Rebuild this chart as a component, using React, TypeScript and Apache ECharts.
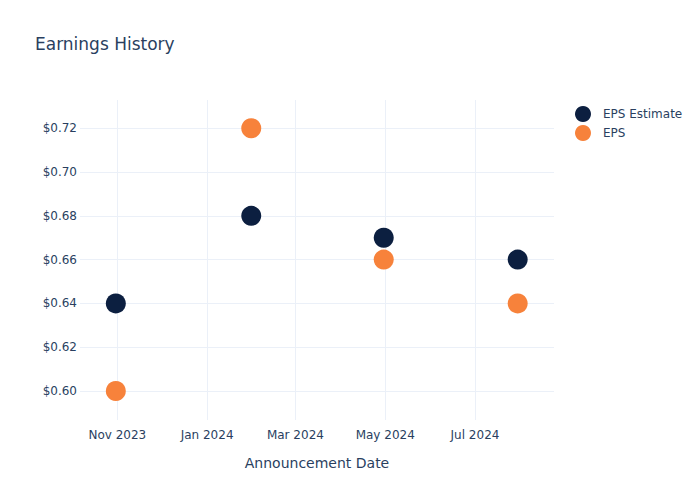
import React, { useEffect, useRef } from "react";
import * as echarts from "echarts";

const dates = ["2023-10-31", "2024-01-31", "2024-04-30", "2024-07-30"];
const epsEstimate = [0.64, 0.68, 0.67, 0.66];
const eps = [0.6, 0.72, 0.66, 0.64];
const xTickDates = ["2023-11-01", "2024-01-01", "2024-03-01", "2024-05-01", "2024-07-01"];
const yTicks = [0.6, 0.62, 0.64, 0.66, 0.68, 0.7, 0.72];
const monthNames = ["Jan", "Feb", "Mar", "Apr", "May", "Jun", "Jul", "Aug", "Sep", "Oct", "Nov", "Dec"];

const ts = (s: string) => {
  const [y, m, d] = s.split("-").map(Number);
  return Date.UTC(y, m - 1, d);
};

const FONT = "DejaVu Sans";
const TEXT = "#2a3f5f";
const GRID = "#ebf0f8";

export default function App() {
  const ref = useRef<HTMLDivElement>(null);
  useEffect(() => {
    if (!ref.current) return;
    const chart = echarts.init(ref.current, undefined, { renderer: "svg" });
    const xTicks = xTickDates.map(ts);
    chart.setOption({
      animation: false,
      textStyle: { fontFamily: FONT },
      title: {
        text: "Earnings History",
        left: 30,
        top: 30,
        textStyle: { fontFamily: FONT, fontSize: 17, fontWeight: "normal", color: TEXT },
      },
      legend: {
        orient: "vertical",
        left: 570,
        top: 101,
        itemWidth: 16,
        itemHeight: 16,
        itemGap: 3,
        icon: "circle",
        textStyle: { fontFamily: FONT, fontSize: 12, color: TEXT, padding: [0, 0, 0, 7] },
        data: ["EPS Estimate", "EPS"],
      },
      grid: { left: 80, right: 146, top: 100, bottom: 80, containLabel: false },
      xAxis: {
        type: "value",
        min: ts("2023-10-06") + 16 * 3600e3,
        max: ts("2024-08-23") + 16 * 3600e3,
        name: "Announcement Date",
        nameLocation: "middle",
        nameGap: 36,
        nameTextStyle: { fontFamily: FONT, fontSize: 14, color: TEXT },
        axisLine: { show: false },
        axisTick: { show: false, customValues: xTicks },
        axisLabel: {
          customValues: xTicks,
          fontFamily: FONT,
          fontSize: 12,
          color: TEXT,
          margin: 9,
          formatter: (v: number) => {
            const d = new Date(v);
            return monthNames[d.getUTCMonth()] + " " + d.getUTCFullYear();
          },
        },
        splitLine: { show: true, lineStyle: { color: GRID, width: 1 } },
      },
      yAxis: {
        type: "value",
        min: 0.58675,
        max: 0.7329,
        axisLine: { show: false },
        axisTick: { show: false, customValues: yTicks },
        axisLabel: {
          customValues: yTicks,
          fontFamily: FONT,
          fontSize: 12,
          color: TEXT,
          margin: 3,
          formatter: (v: number) => "$" + v.toFixed(2),
        },
        splitLine: { show: true, lineStyle: { color: GRID, width: 1 } },
      },
      series: [
        {
          name: "EPS Estimate",
          type: "scatter",
          symbol: "circle",
          symbolSize: 20,
          itemStyle: { color: "#0c1f40", opacity: 1 },
          data: dates.map((d, i) => [ts(d), epsEstimate[i]]),
          z: 2,
        },
        {
          name: "EPS",
          type: "scatter",
          symbol: "circle",
          symbolSize: 20,
          itemStyle: { color: "#f7823b", opacity: 1 },
          data: dates.map((d, i) => [ts(d), eps[i]]),
          z: 3,
        },
      ],
    });
    return () => chart.dispose();
  }, []);
  return <div ref={ref} style={{ width: 700, height: 500, margin: -8 }} />;
}
